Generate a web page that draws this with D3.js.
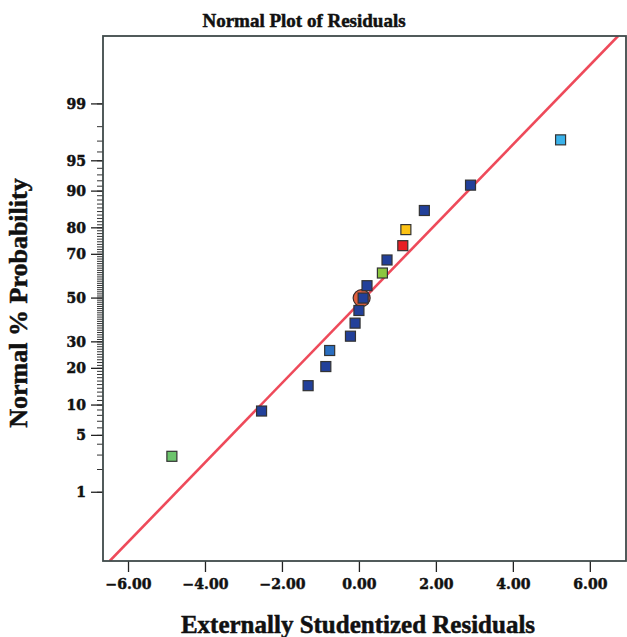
<!DOCTYPE html>
<html>
<head>
<meta charset="utf-8">
<script src="https://cdn.jsdelivr.net/npm/d3@7"></script>
<style>
  body { margin: 0; background: #fff; }
  svg { display: block; }
</style>
</head>
<body>
<svg id="chart" width="627" height="637"></svg>
<script>
let width = 627;
let height = 637;
let margins = {top: 36, bottom: 76, left: 103, right: 1};

// residuals, sorted, and their normal % probability
const residuals = [-4.86, -2.53, -1.32, -0.86, -0.76, -0.22, -0.10, 0.00, 0.11,
	0.21, 0.61, 0.73, 1.14, 1.22, 1.70, 2.90, 5.24];
const probability = [2.9, 8.8, 14.7, 20.6, 26.5, 32.4, 38.2, 44.1, 50.0,
	55.9, 61.8, 67.6, 73.5, 79.4, 85.3, 91.2, 97.1];
// colour group of each run
const group = ["g2", "b", "b", "b", "m", "b", "b", "b", "b",
	"b", "g1", "b", "r", "y", "b", "b", "c"];
const highlighted = 8;

// fitted line (mean, sd)
const fitMean = 0.14;
const fitSd = 2.10;

const xTicks = [-6, -4, -2, 0, 2, 4, 6];
const yTicks = [1, 5, 10, 20, 30, 50, 70, 80, 90, 95, 99];

const colors = {
	b: "#22409a", m: "#2a6ec0", c: "#3ab2ea", g1: "#8cc63f",
	g2: "#6cc46c", y: "#fcc214", r: "#e81e25"
};

// inverse normal cdf (Acklam)
function probit(p) {
	const a = [-3.969683028665376e+01, 2.209460984245205e+02, -2.759285104469687e+02,
		1.383577518672690e+02, -3.066479806614716e+01, 2.506628277459239e+00];
	const b = [-5.447609879822406e+01, 1.615858368580409e+02, -1.556989798598866e+02,
		6.680131188771972e+01, -1.328068155288572e+01];
	const c = [-7.784894002430293e-03, -3.223964580411365e-01, -2.400758277161838e+00,
		-2.549732539343734e+00, 4.374664141464968e+00, 2.938163982698783e+00];
	const d = [7.784695709041462e-03, 3.224671290700398e-01, 2.445134137142996e+00,
		3.754408661907416e+00];
	const pl = 0.02425;
	let q, r;
	if (p < pl) {
		q = Math.sqrt(-2 * Math.log(p));
		return (((((c[0]*q+c[1])*q+c[2])*q+c[3])*q+c[4])*q+c[5]) / ((((d[0]*q+d[1])*q+d[2])*q+d[3])*q+1);
	} else if (p <= 1 - pl) {
		q = p - 0.5; r = q * q;
		return (((((a[0]*r+a[1])*r+a[2])*r+a[3])*r+a[4])*r+a[5])*q / (((((b[0]*r+b[1])*r+b[2])*r+b[3])*r+b[4])*r+1);
	} else {
		q = Math.sqrt(-2 * Math.log(1 - p));
		return -(((((c[0]*q+c[1])*q+c[2])*q+c[3])*q+c[4])*q+c[5]) / ((((d[0]*q+d[1])*q+d[2])*q+d[3])*q+1);
	}
}

let scales = {
	x: d3.scaleLinear().domain([-6.65, 6.94]).range([margins.left, width - margins.right]),
	z: d3.scaleLinear().domain([-3.15, 3.14]).range([height - margins.bottom, margins.top])
};
const yPos = p => scales.z(probit(p / 100));

const svg = d3.select("#chart");
const serif = "'Liberation Serif', 'Times New Roman', serif";
const tickFont = "'DejaVu Serif', serif";

function heavy(sel, size, font) {
	sel.style("font-family", font || serif)
		.style("font-weight", "bold")
		.style("font-size", size + "px")
		.attr("fill", "#111")
		.attr("stroke", "#111")
		.attr("stroke-width", 0.5);
}

// title
svg.append("text")
	.attr("x", 304).attr("y", 27)
	.attr("text-anchor", "middle")
	.call(heavy, 19)
	.text("Normal Plot of Residuals");

// x axis
const xAxis = d3.axisBottom(scales.x)
	.tickValues(xTicks)
	.tickSize(11)
	.tickPadding(7)
	.tickFormat(d3.format(".2f"));
const gx = svg.append("g")
	.attr("transform", `translate(0,${height - margins.bottom})`)
	.call(xAxis);
gx.select(".domain").remove();
gx.selectAll(".tick line").attr("stroke", "#222").attr("stroke-width", 1.3);
gx.selectAll(".tick text").call(heavy, 14, tickFont);

// y axis: minor ticks every percent, major ticks labelled
const minor = d3.range(1, 100);
svg.append("g")
	.selectAll("line")
	.data(minor).enter()
	.append("line")
	.attr("x1", margins.left - 6).attr("x2", margins.left)
	.attr("y1", d => yPos(d)).attr("y2", d => yPos(d))
	.attr("stroke", "#333").attr("stroke-width", 1);

const gy = svg.append("g");
gy.selectAll("line")
	.data(yTicks).enter()
	.append("line")
	.attr("x1", margins.left - 12).attr("x2", margins.left)
	.attr("y1", d => yPos(d)).attr("y2", d => yPos(d))
	.attr("stroke", "#222").attr("stroke-width", 1.3);
gy.selectAll("text")
	.data(yTicks).enter()
	.append("text")
	.attr("x", margins.left - 17)
	.attr("y", d => yPos(d))
	.attr("dy", "0.35em")
	.attr("text-anchor", "end")
	.call(heavy, 14, tickFont)
	.text(d => d);

// clip for the plot area
svg.append("clipPath").attr("id", "plotclip")
	.append("rect")
	.attr("x", margins.left).attr("y", margins.top)
	.attr("width", width - margins.right - margins.left)
	.attr("height", height - margins.bottom - margins.top);

// fitted line
const zDom = scales.z.domain();
const line = d3.line()
	.x(z => scales.x(fitMean + fitSd * z))
	.y(z => scales.z(z));
svg.append("path")
	.datum(zDom)
	.attr("clip-path", "url(#plotclip)")
	.attr("d", line)
	.attr("fill", "none")
	.attr("stroke", "#ee4a5a")
	.attr("stroke-width", 2.6);

// frame
svg.append("rect")
	.attr("x", margins.left).attr("y", margins.top)
	.attr("width", width - margins.right - margins.left)
	.attr("height", height - margins.bottom - margins.top)
	.attr("fill", "none")
	.attr("stroke", "#3f4a4a")
	.attr("stroke-width", 1.8);

// highlight circle
svg.append("circle")
	.attr("cx", scales.x(residuals[highlighted]) - 1.5)
	.attr("cy", yPos(probability[highlighted]))
	.attr("r", 8.5)
	.attr("fill", "#e0603f")
	.attr("stroke", "#3a2a2a")
	.attr("stroke-width", 1.2);

// points
const s = 10;
svg.append("g").selectAll("rect")
	.data(residuals).enter()
	.append("rect")
	.attr("x", d => scales.x(d) - s / 2)
	.attr("y", (d, i) => yPos(probability[i]) - s / 2)
	.attr("width", s).attr("height", s)
	.attr("fill", (d, i) => colors[group[i]])
	.attr("stroke", "#333")
	.attr("stroke-width", 1.2);

// axis titles
svg.append("text")
	.attr("x", 358).attr("y", 633)
	.attr("text-anchor", "middle")
	.call(heavy, 25)
	.text("Externally Studentized Residuals");

svg.append("text")
	.attr("transform", "translate(27,303) rotate(-90)")
	.attr("text-anchor", "middle")
	.call(heavy, 26)
	.text("Normal % Probability");
</script>
</body>
</html>
